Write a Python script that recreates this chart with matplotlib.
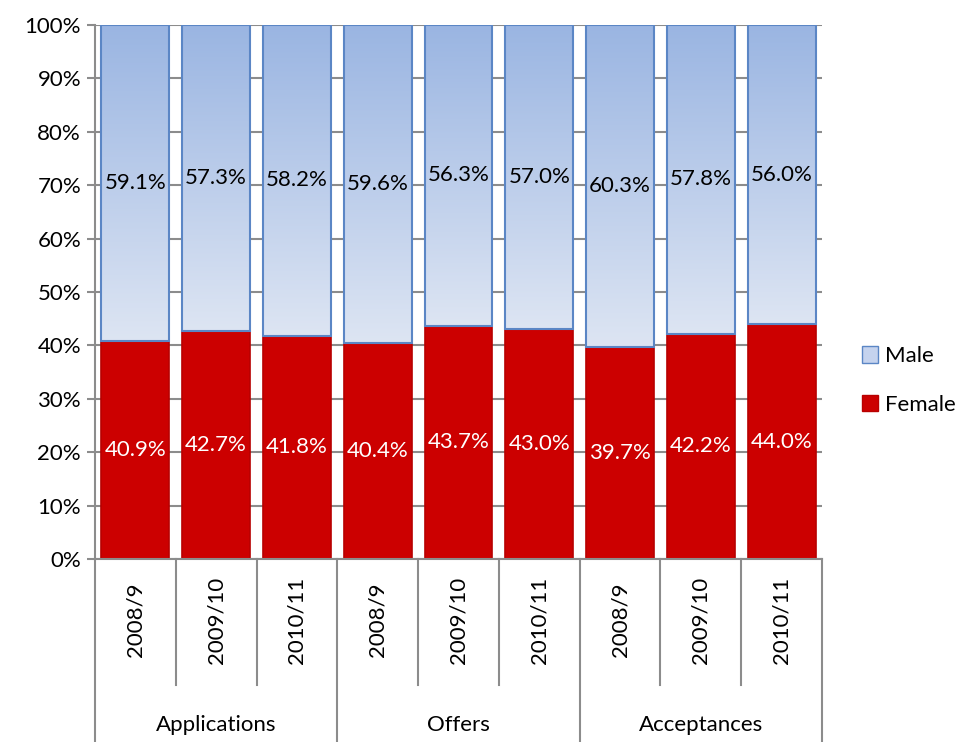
import numpy as np
import matplotlib
matplotlib.use("Agg")
import matplotlib.pyplot as plt
from matplotlib.patches import Patch
from matplotlib.colors import LinearSegmentedColormap

plt.rcParams['font.family'] = ['Lato', 'DejaVu Sans']

groups = ["Applications", "Offers", "Acceptances"]
years = ["2008/9", "2009/10", "2010/11"]
female = [40.9, 42.7, 41.8, 40.4, 43.7, 43.0, 39.7, 42.2, 44.0]
male = [59.1, 57.3, 58.2, 59.6, 56.3, 57.0, 60.3, 57.8, 56.0]

fig = plt.figure(figsize=(9.66, 7.42), dpi=100)
ax = fig.add_axes([0.0983, 0.2466, 0.7527, 0.7197])

x = np.arange(len(female))
width = 0.84
grid_col = "#8c8c8c"
fs = 16

ax.set_ylim(0, 100)
ax.set_xlim(-0.5, len(female) - 0.5)
ax.set_yticks(range(0, 101, 10))
ax.set_yticklabels([f"{v}%" for v in range(0, 101, 10)], fontsize=fs)
ax.yaxis.grid(True, color=grid_col, lw=1.5, zorder=0)
ax.set_axisbelow(True)
ax.tick_params(axis='y', length=6, width=1.5, color=grid_col, pad=4)
ax.tick_params(axis='x', length=0, labelbottom=False)
for s in ["top", "right"]:
    ax.spines[s].set_visible(False)
ax.spines["left"].set_color(grid_col)
ax.spines["left"].set_linewidth(1.5)
ax.spines["bottom"].set_color(grid_col)
ax.spines["bottom"].set_linewidth(1.5)

fbars = ax.bar(x, female, width, color="#cc0000", edgecolor="#b80000", lw=1.2, zorder=2)
mbars = ax.bar(x, male, width, bottom=female, color="none", edgecolor="#5b86c5", lw=1.5, zorder=3)

# gradient fill for the male segments
cmap = LinearSegmentedColormap.from_list("m", ["#dde5f3", "#9ab5e2"])
grad = np.linspace(0, 1, 256).reshape(-1, 1)
for b in mbars:
    x0 = b.get_x()
    im = ax.imshow(grad, cmap=cmap, origin="lower", aspect="auto",
                   extent=(x0, x0 + b.get_width(), b.get_y(), b.get_y() + b.get_height()),
                   zorder=2.5)
    im.set_clip_path(b)
ax.set_xlim(-0.5, len(female) - 0.5)
ax.set_ylim(0, 100)

for i in range(len(female)):
    ax.text(x[i], female[i] / 2, f"{female[i]:.1f}%", ha="center", va="center",
            color="white", fontsize=fs, zorder=5)
    ax.text(x[i], female[i] + male[i] / 2, f"{male[i]:.1f}%", ha="center", va="center",
            color="black", fontsize=fs, zorder=5)

# hierarchical category axis
tr = ax.get_xaxis_transform()
for b in np.arange(-0.5, len(female), 1.0):
    full = abs((b + 0.5) % 3) < 1e-9
    ax.plot([b, b], [0, -0.343 if full else -0.236], transform=tr, color=grid_col,
            lw=1.5, clip_on=False)
for i in range(len(female)):
    ax.text(x[i], -0.114, years[i % 3], transform=tr, rotation=90, ha="center",
            va="center", fontsize=fs)
for g, name in enumerate(groups):
    ax.text(3 * g + 1, -0.311, name, transform=tr, ha="center", va="center", fontsize=fs)

handles = [Patch(facecolor="#c5d3ee", edgecolor="#5b86c5", label="Male"),
           Patch(facecolor="#cc0000", edgecolor="#b80000", label="Female")]
fig.legend(handles=handles, loc="center left", bbox_to_anchor=(0.892, 0.487),
           frameon=False, fontsize=fs, handlelength=0.75, handleheight=0.75,
           handletextpad=0.3, labelspacing=1.3, borderaxespad=0, borderpad=0)

fig.savefig("out.png", dpi=100)
